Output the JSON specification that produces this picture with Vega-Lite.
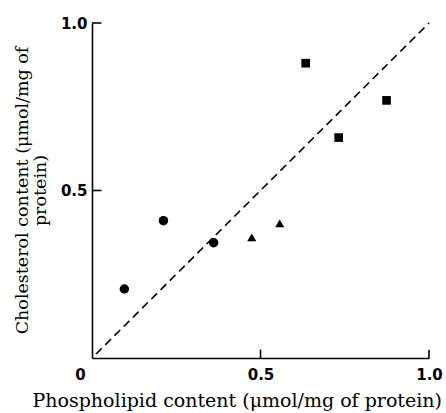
{
  "$schema": "https://vega.github.io/schema/vega-lite/v6.json",
  "width": 337,
  "height": 335,
  "autosize": {"type": "none"},
  "padding": {"left": 92, "top": 23, "right": 17, "bottom": 55},
  "background": "white",
  "config": {"view": {"stroke": null}},
  "datasets": {
    "points": [
      {"phospholipid": 0.096, "cholesterol": 0.206, "group": "circle"},
      {"phospholipid": 0.212, "cholesterol": 0.41, "group": "circle"},
      {"phospholipid": 0.361, "cholesterol": 0.344, "group": "circle"},
      {"phospholipid": 0.474, "cholesterol": 0.36, "group": "triangle"},
      {"phospholipid": 0.557, "cholesterol": 0.402, "group": "triangle"},
      {"phospholipid": 0.634, "cholesterol": 0.88, "group": "square"},
      {"phospholipid": 0.732, "cholesterol": 0.658, "group": "square"},
      {"phospholipid": 0.874, "cholesterol": 0.769, "group": "square"}
    ],
    "identity": [
      {"phospholipid": 0.012, "cholesterol": 0.012},
      {"phospholipid": 1.0, "cholesterol": 1.0}
    ],
    "ticks": [
      {"tick": 0.5},
      {"tick": 1.0}
    ]
  },
  "layer": [
    {
      "data": {"name": "identity"},
      "mark": {"type": "line", "color": "black", "strokeWidth": 1.6, "strokeDash": [8, 5]},
      "encoding": {
        "x": {
          "field": "phospholipid", "type": "quantitative",
          "scale": {"domain": [0, 1], "nice": false, "zero": false},
          "axis": {
            "values": [0, 0.5, 1],
            "labelExpr": "datum.value == 0 ? '0' : format(datum.value, '.1f')",
            "grid": false,
            "domainColor": "black", "domainWidth": 1.6,
            "ticks": false,
            "labelPadding": 9,
            "labelOffset": {"expr": "datum.value == 0 ? -12 : 0"},
            "labelFont": "DejaVu Sans", "labelFontSize": 15, "labelFontWeight": "bold", "labelColor": "black",
            "labelFlush": false,
            "title": "Phospholipid content (μmol/mg of protein)",
            "titleFont": "DejaVu Serif", "titleFontSize": 19, "titleFontWeight": "normal",
            "titleColor": "black",
            "titleX": -60, "titleY": 48, "titleAlign": "left", "titleAnchor": "start", "titleBaseline": "alphabetic"
          }
        },
        "y": {
          "field": "cholesterol", "type": "quantitative",
          "scale": {"domain": [0, 1], "nice": false, "zero": false},
          "axis": {
            "values": [0.5, 1],
            "format": ".1f",
            "grid": false,
            "domainColor": "black", "domainWidth": 1.6,
            "ticks": false,
            "labelPadding": 5,
            "labelFont": "DejaVu Sans", "labelFontSize": 15, "labelFontWeight": "bold", "labelColor": "black",
            "labelFlush": false,
            "title": ["Cholesterol content (μmol/mg of", "protein)"],
            "titleFont": "DejaVu Serif", "titleFontSize": 17.5, "titleFontWeight": "normal",
            "titleColor": "black", "titleLineHeight": 18,
            "titleAngle": -90, "titleX": -65, "titleY": 167,
            "titleAlign": "center", "titleBaseline": "alphabetic"
          }
        }
      }
    },
    {
      "data": {"name": "ticks"},
      "mark": {"type": "rule", "color": "black", "strokeWidth": 1.6},
      "encoding": {
        "x": {"field": "tick", "type": "quantitative"},
        "y": {"datum": 0},
        "y2": {"datum": 0.025}
      }
    },
    {
      "data": {"name": "ticks"},
      "mark": {"type": "rule", "color": "black", "strokeWidth": 1.6},
      "encoding": {
        "y": {"field": "tick", "type": "quantitative"},
        "x": {"datum": 0},
        "x2": {"datum": 0.028}
      }
    },
    {
      "data": {"name": "points"},
      "mark": {"type": "point", "filled": true, "color": "black", "opacity": 1},
      "encoding": {
        "x": {"field": "phospholipid", "type": "quantitative"},
        "y": {"field": "cholesterol", "type": "quantitative"},
        "shape": {
          "field": "group", "type": "nominal",
          "scale": {"domain": ["circle", "triangle", "square"], "range": ["circle", "triangle-up", "square"]},
          "legend": null
        },
        "size": {
          "field": "group", "type": "nominal",
          "scale": {"domain": ["circle", "triangle", "square"], "range": [90, 75, 85]},
          "legend": null
        }
      }
    }
  ]
}
